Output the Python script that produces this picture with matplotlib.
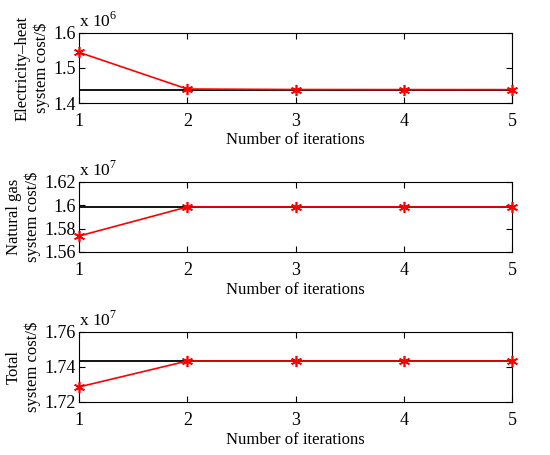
import numpy as np
import matplotlib
matplotlib.use('Agg')
from matplotlib import pyplot as plt
from matplotlib.ticker import FuncFormatter

plt.rcParams['font.family'] = ['Liberation Serif', 'DejaVu Serif']
plt.rcParams['mathtext.fontset'] = 'custom'
plt.rcParams['mathtext.rm'] = 'Liberation Serif'

iters = [1, 2, 3, 4, 5]

eh_cost = [1.5448e6, 1.4400e6, 1.4385e6, 1.4383e6, 1.4382e6]
eh_ref = 1.4381e6
gas_cost = [1.5737e7, 1.5986e7, 1.5986e7, 1.5986e7, 1.5986e7]
gas_ref = 1.5986e7
tot_cost = [1.7286e7, 1.7434e7, 1.7434e7, 1.7434e7, 1.7434e7]
tot_ref = 1.7434e7

panels = [
    (eh_cost, eh_ref, 'Electricity\u2013heat\nsystem cost/$', 6, (1.4e6, 1.6e6), [1.4e6, 1.5e6, 1.6e6]),
    (gas_cost, gas_ref, 'Natural gas\nsystem cost/$', 7, (1.56e7, 1.62e7), [1.56e7, 1.58e7, 1.60e7, 1.62e7]),
    (tot_cost, tot_ref, 'Total\nsystem cost/$', 7, (1.72e7, 1.76e7), [1.72e7, 1.74e7, 1.76e7]),
]

fig = plt.figure(figsize=(5.5, 4.55), dpi=100)
tops = [33, 182, 332]
for (vals, ref, ylab, exp, ylim, yt), top in zip(panels, tops):
    ax = fig.add_axes([79/550, 1 - (top + 70)/455, 433/550, 70/455])
    ax.axhline(ref, color='black', lw=1.3)
    ax.plot(iters, vals, color='red', lw=1.2, marker=(6, 2, 0), ms=8, mew=1.2, clip_on=False, zorder=3)
    ax.set_xlim(1, 5)
    ax.set_ylim(*ylim)
    ax.set_xticks(iters)
    ax.set_yticks(yt)
    s = 10 ** exp
    ax.yaxis.set_major_formatter(FuncFormatter(lambda v, p, s=s: '%g' % round(v / s, 3)))
    ax.tick_params(direction='in', top=True, right=True, labelsize=13, length=4, pad=2)
    ax.tick_params(axis='x', pad=7)
    ax.set_xlabel('Number of iterations', fontsize=12, labelpad=2)
    ax.set_ylabel(ylab, fontsize=12, linespacing=1.2, labelpad=3)
    ax.text(0, 1.03, 'x 10$^{%d}$' % exp, transform=ax.transAxes, fontsize=12.5, va='bottom')
    for sp in ax.spines.values():
        sp.set_linewidth(0.8)

plt.savefig('out.png', dpi=100)
